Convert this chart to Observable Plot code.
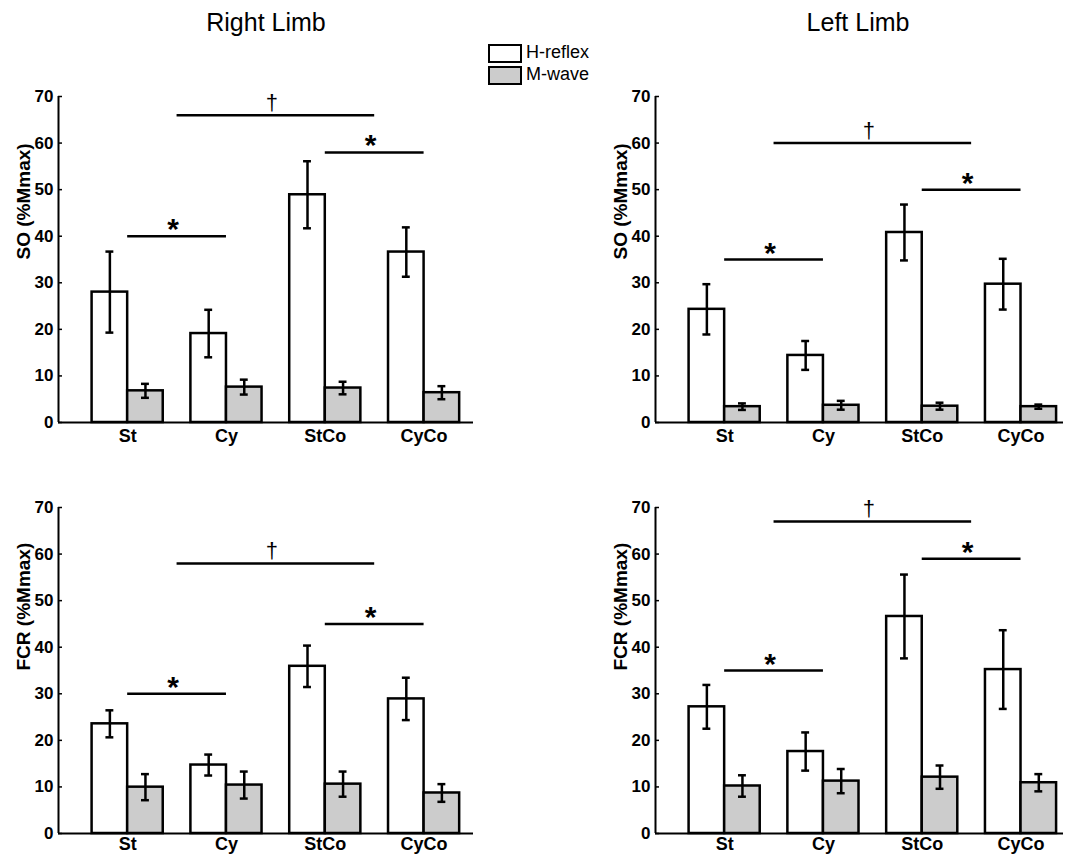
<!DOCTYPE html>
<html>
<head>
<meta charset="utf-8">
<script src="https://cdn.jsdelivr.net/npm/d3@7"></script>
<script src="https://cdn.jsdelivr.net/npm/@observablehq/plot@0.6"></script>
<style>
  html, body { margin: 0; padding: 0; background: white; overflow: hidden; }
  #root { position: relative; width: 1066px; height: 856px; overflow: hidden; background: white;
          font-family: "Liberation Sans", Arial, sans-serif; color: black; }
  .title { position: absolute; top: 8px; font-size: 25px; width: 300px; text-align: center; }
  .panel { position: absolute; }
  .leg-box { position: absolute; width: 30px; height: 15px; border: 2px solid black; }
  .leg-text { position: absolute; font-size: 18px; line-height: 19px; }
</style>
</head>
<body>
<div id="root">
  <div class="title" style="left:116px">Right Limb</div>
  <div class="title" style="left:708px">Left Limb</div>
  <div class="leg-box" style="left:488px;top:44px;background:#ffffff"></div>
  <div class="leg-text" style="left:526px;top:43px">H-reflex</div>
  <div class="leg-box" style="left:488px;top:66px;background:#cccccc"></div>
  <div class="leg-text" style="left:526px;top:65px">M-wave</div>
  <div class="panel" id="p1" style="left:0px;top:60px"></div>
  <div class="panel" id="p2" style="left:597px;top:60px"></div>
  <div class="panel" id="p3" style="left:0px;top:471px"></div>
  <div class="panel" id="p4" style="left:597px;top:471px"></div>
</div>
<script>
// ---- data ----
const categories = ["St", "Cy", "StCo", "CyCo"];
const seriesNames = ["H-reflex", "M-wave"];
const yTicks = [0, 10, 20, 30, 40, 50, 60, 70];

// SO, right limb
const soRightH = [28.0, 19.1, 48.9, 36.6];
const soRightHErr = [8.7, 5.1, 7.2, 5.3];
const soRightM = [6.8, 7.6, 7.4, 6.4];
const soRightMErr = [1.5, 1.6, 1.35, 1.4];
// SO, left limb
const soLeftH = [24.3, 14.4, 40.8, 29.7];
const soLeftHErr = [5.4, 3.1, 6.0, 5.45];
const soLeftM = [3.4, 3.7, 3.5, 3.4];
const soLeftMErr = [0.7, 0.95, 0.75, 0.45];
// FCR, right limb
const fcrRightH = [23.55, 14.7, 35.9, 28.9];
const fcrRightHErr = [2.9, 2.25, 4.45, 4.55];
const fcrRightM = [9.95, 10.4, 10.6, 8.7];
const fcrRightMErr = [2.8, 2.9, 2.7, 1.9];
// FCR, left limb
const fcrLeftH = [27.2, 17.6, 46.6, 35.2];
const fcrLeftHErr = [4.7, 4.1, 9.0, 8.45];
const fcrLeftM = [10.2, 11.25, 12.1, 10.9];
const fcrLeftMErr = [2.3, 2.6, 2.5, 1.85];

// significance brackets (positions on the category axis, 1 = St ... 4 = CyCo)
const sigFrom = [1, 3, 1.5];
const sigTo = [2, 4, 3.5];
const sigSymbols = ["*", "*", "†"];
const soRightSigY = [40, 58, 66];
const soLeftSigY = [35, 50, 60];
const fcrRightSigY = [30, 45, 58];
const fcrLeftSigY = [35, 59, 67];

// ---- drawing ----
const BAR_W = 0.36;
const CAP = 0.04;
const FILLS = {"H-reflex": "#ffffff", "M-wave": "#cccccc"};

function panel({h, hErr, m, mErr, sigY, label, xMax, width, marginRight, labelPad}) {
  const bars = [];
  categories.forEach((c, i) => {
    const pos = i + 1;
    bars.push({series: seriesNames[0], x1: pos - BAR_W, x2: pos, v: h[i], e: hErr[i]});
    bars.push({series: seriesNames[1], x1: pos, x2: pos + BAR_W, v: m[i], e: mErr[i]});
  });
  bars.forEach(b => { b.c = (b.x1 + b.x2) / 2; });
  const sig = sigSymbols.map((s, i) => ({s, from: sigFrom[i], to: sigTo[i], y: sigY[i]}));
  const stars = sig.filter(d => d.s === "*");
  const daggers = sig.filter(d => d.s !== "*");
  const xMin = 0.3;

  return Plot.plot({
    width, height: 385,
    marginLeft: 58, marginRight, marginTop: 36, marginBottom: 23,
    style: {fontFamily: "'Liberation Sans', Arial, sans-serif", color: "black", background: "white", overflow: "visible"},
    x: {type: "linear", domain: [xMin, xMax]},
    y: {domain: [0, 70]},
    marks: [
      Plot.rectY(bars, {x1: "x1", x2: "x2", y1: 0, y2: "v", fill: d => FILLS[d.series], stroke: "black", strokeWidth: 2.5}),
      Plot.ruleX(bars, {x: "c", y1: d => d.v - d.e, y2: d => d.v + d.e, stroke: "black", strokeWidth: 2.5}),
      Plot.ruleY(bars, {x1: d => d.c - CAP, x2: d => d.c + CAP, y: d => d.v + d.e, stroke: "black", strokeWidth: 2.5}),
      Plot.ruleY(bars, {x1: d => d.c - CAP, x2: d => d.c + CAP, y: d => d.v - d.e, stroke: "black", strokeWidth: 2.5}),
      Plot.ruleY(sig, {x1: "from", x2: "to", y: "y", stroke: "black", strokeWidth: 2.5}),
      Plot.text(stars, {x: d => (d.from + d.to) / 2, y: "y", text: "s", lineAnchor: "bottom", dy: 3, dx: -4, fontSize: 30, fontWeight: "bold", fill: "black"}),
      Plot.text(daggers, {x: d => (d.from + d.to) / 2, y: "y", text: "s", lineAnchor: "bottom", dy: -5, dx: -4, fontSize: 22, fill: "black"}),
      Plot.axisY({ticks: yTicks, tickSize: -4, tickPadding: 9, fontSize: 17, fontWeight: "bold", label: null, strokeWidth: 1.5}),
      Plot.axisX({ticks: [1, 2, 3, 4], tickFormat: d => categories[d - 1], tickSize: 0, tickPadding: labelPad, fontSize: 18, fontWeight: "bold", label: null}),
      Plot.text([label], {text: d => d, frameAnchor: "left", rotate: -90, dx: -35, fontSize: 19, fontWeight: "bold", fill: "black"}),
      Plot.ruleY([0], {stroke: "black", strokeWidth: 2}),
      Plot.ruleX([xMin], {stroke: "black", strokeWidth: 2})
    ]
  });
}

const leftGeom = {xMax: 4.5, width: 480, marginRight: 7};
const rightGeom = {xMax: 4.43, width: 469, marginRight: 3};

document.getElementById("p1").appendChild(panel({h: soRightH, hErr: soRightHErr, m: soRightM, mErr: soRightMErr, sigY: soRightSigY, label: "SO (%Mmax)", labelPad: 7, ...leftGeom}));
document.getElementById("p2").appendChild(panel({h: soLeftH, hErr: soLeftHErr, m: soLeftM, mErr: soLeftMErr, sigY: soLeftSigY, label: "SO (%Mmax)", labelPad: 7, ...rightGeom}));
document.getElementById("p3").appendChild(panel({h: fcrRightH, hErr: fcrRightHErr, m: fcrRightM, mErr: fcrRightMErr, sigY: fcrRightSigY, label: "FCR (%Mmax)", labelPad: 4, ...leftGeom}));
document.getElementById("p4").appendChild(panel({h: fcrLeftH, hErr: fcrLeftHErr, m: fcrLeftM, mErr: fcrLeftMErr, sigY: fcrLeftSigY, label: "FCR (%Mmax)", labelPad: 4, ...rightGeom}));
</script>
</body>
</html>
